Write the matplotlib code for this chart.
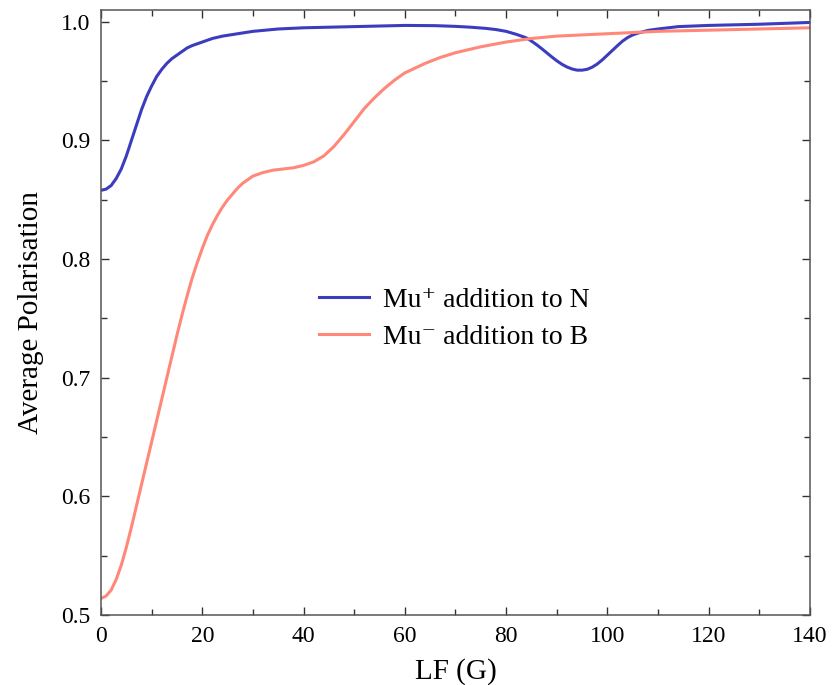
import matplotlib
matplotlib.use("Agg")
import matplotlib.pyplot as plt
from matplotlib.ticker import MultipleLocator

# Mu+ addition to N
BLUE_X = [0, 1, 2, 3, 4, 5, 6, 7, 8, 9, 10, 11, 12, 13, 14, 15, 16, 17, 18, 20,
          22, 24, 27, 30, 35, 40, 50, 60, 66, 70, 73, 76, 78, 80, 82, 84, 85,
          86, 87, 88, 89, 90, 91, 92, 93, 94, 95, 96, 97, 98, 99, 100, 101, 102,
          103, 104, 105, 106, 108, 110, 114, 120, 130, 140]
BLUE_Y = [0.858, 0.859, 0.862, 0.868, 0.876, 0.887, 0.900, 0.913, 0.926, 0.937,
          0.946, 0.954, 0.960, 0.965, 0.969, 0.972, 0.975, 0.978, 0.980, 0.983,
          0.986, 0.988, 0.990, 0.992, 0.994, 0.995, 0.996, 0.997, 0.9968, 0.9962,
          0.9955, 0.9945, 0.9935, 0.992, 0.9895, 0.9865, 0.9838, 0.9808, 0.9775,
          0.974, 0.9705, 0.9672, 0.9643, 0.962, 0.9603, 0.9593, 0.9593, 0.960,
          0.9618, 0.9645, 0.968, 0.972, 0.976, 0.980, 0.9838, 0.9868, 0.989,
          0.9905, 0.9928, 0.994, 0.996, 0.997, 0.998, 0.9995]

# Mu- addition to B
RED_X = [0, 1, 2, 3, 4, 5, 6, 7, 8, 9, 10, 11, 12, 13, 14, 15, 16, 17, 18, 19,
         20, 21, 22, 23, 24, 25, 26, 27, 28, 29, 30, 32, 34, 36, 38, 40, 42, 44,
         46, 48, 50, 52, 54, 56, 58, 60, 62, 64, 67, 70, 75, 80, 85, 90, 95,
         100, 110, 120, 130, 140]
RED_Y = [0.514, 0.516, 0.521, 0.530, 0.542, 0.557, 0.574, 0.592, 0.610, 0.628,
         0.646, 0.664, 0.682, 0.700, 0.718, 0.736, 0.753, 0.769, 0.784, 0.797,
         0.809, 0.820, 0.829, 0.837, 0.844, 0.850, 0.855, 0.860, 0.864, 0.867,
         0.870, 0.873, 0.875, 0.876, 0.877, 0.879, 0.882, 0.887, 0.895, 0.905,
         0.916, 0.927, 0.936, 0.944, 0.951, 0.957, 0.961, 0.965, 0.970, 0.974,
         0.979, 0.983, 0.986, 0.988, 0.989, 0.990, 0.992, 0.993, 0.994, 0.995]

LABELS = ["Mu\u207a addition to N", "Mu\u207b addition to B"]

plt.rcParams["font.family"] = ["Liberation Serif", "DejaVu Serif"]

fig = plt.figure(figsize=(8.39, 6.85), dpi=100)
ax = fig.add_axes([0.1204, 0.1022, 0.8450, 0.8832])

ax.plot(BLUE_X, BLUE_Y, color="#3c3cbe", linewidth=2.2, label=LABELS[0])
ax.plot(RED_X, RED_Y, color="#ff8878", linewidth=2.2, label=LABELS[1])

ax.set_xlim(0, 140)
ax.set_ylim(0.5, 1.01)
ax.xaxis.set_major_locator(MultipleLocator(20))
ax.xaxis.set_minor_locator(MultipleLocator(10))
ax.yaxis.set_major_locator(MultipleLocator(0.1))
ax.yaxis.set_minor_locator(MultipleLocator(0.05))
ax.yaxis.set_major_formatter(plt.FuncFormatter(lambda v, p: f"{v:.1f}"))

for s in ax.spines.values():
    s.set_color("#555555")
    s.set_linewidth(1.1)
ax.tick_params(which="both", direction="in", top=True, right=True,
               color="#333333", width=1.0, labelsize=17, pad=8)
ax.tick_params(which="major", length=6)
ax.tick_params(which="minor", length=4)

ax.set_xlabel("LF (G)", fontsize=21, labelpad=8)
ax.set_ylabel("Average Polarisation", fontsize=21, labelpad=12)

ax.legend(loc="center left", bbox_to_anchor=(0.288, 0.49), frameon=False,
          fontsize=20, handlelength=1.8, handletextpad=0.5, labelspacing=0.42,
          borderpad=0)

fig.savefig("out.png", dpi=100)
